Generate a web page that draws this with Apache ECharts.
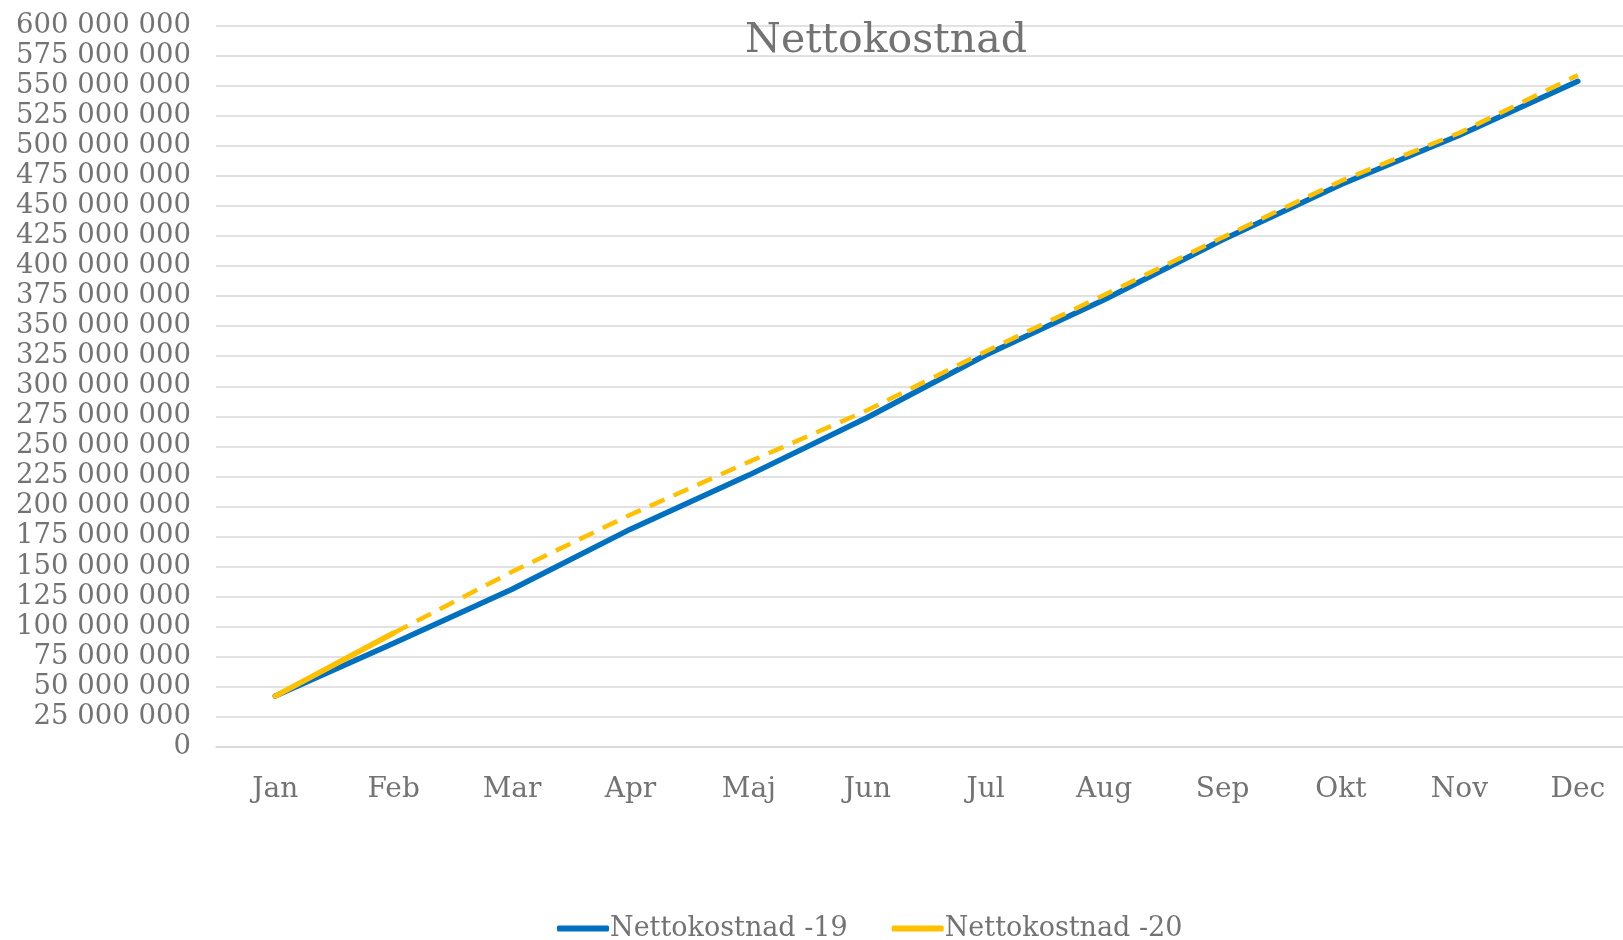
<!DOCTYPE html>
<html>
<head>
<meta charset="utf-8">
<title>Nettokostnad</title>
<script src="https://cdn.jsdelivr.net/npm/echarts@6/dist/echarts.min.js"></script>
<style>
  html, body { margin: 0; padding: 0; background: #fff; overflow: hidden; }
  /* diagrammet är bredare än fönstret, Dec-kolumnen skärs av till höger */
  #main { width: 1640px; height: 940px; }
</style>
</head>
<body>
<div id="main"></div>
<script>
// månader
var months = ['Jan', 'Feb', 'Mar', 'Apr', 'Maj', 'Jun', 'Jul', 'Aug', 'Sep', 'Okt', 'Nov', 'Dec'];

// ackumulerad nettokostnad 2019 (kr)
var netto19 = [42000000, 86000000, 131000000, 181000000, 226000000, 274000000,
               326000000, 372000000, 422000000, 468000000, 509000000, 554000000];

// 2020 utfall (heldragen) och prognos (streckad)
var netto20 = [42000000, 94500000, '-', '-', '-', '-', '-', '-', '-', '-', '-', '-'];
var prognos20 = ['-', 94500000, 145500000, 193000000, 237000000, 280000000,
                 329000000, 376000000, 424000000, 471000000, 511000000, 559000000];

var grey = '#737373';
var serif = 'DejaVu Serif';

function fmt(v) {
    return String(v).replace(/\B(?=(\d{3})+(?!\d))/g, ' ');
}

var myChart = echarts.init(document.getElementById('main'));
myChart.setOption({
    animation: false,
    backgroundColor: '#fff',
    title: {
        text: 'Nettokostnad',
        left: 740,
        top: 16,
        textStyle: { fontFamily: serif, fontSize: 41, fontWeight: 'normal', color: grey }
    },
    legend: {
        data: [
            { name: 'Nettokostnad -19', icon: 'roundRect' },
            { name: 'Nettokostnad -20', icon: 'roundRect' }
        ],
        left: 552,
        top: 910,
        itemWidth: 52,
        itemHeight: 6,
        itemGap: 44,
        textStyle: { fontFamily: serif, fontSize: 27, color: grey, padding: [0, 0, 0, -4] }
    },
    grid: { left: 216, right: 3, top: 26, bottom: 193.5, containLabel: false },
    xAxis: {
        type: 'category',
        data: months,
        boundaryGap: true,
        axisLine: { lineStyle: { color: '#d9d9d9', width: 1.5 } },
        axisTick: { show: false },
        axisLabel: { fontFamily: serif, fontSize: 28, color: grey, margin: 29 }
    },
    yAxis: {
        type: 'value',
        min: 0,
        max: 600000000,
        interval: 25000000,
        axisLine: { show: false },
        axisTick: { show: false },
        splitLine: { lineStyle: { color: '#d9d9d9', width: 1.5 } },
        axisLabel: {
            fontFamily: serif, fontSize: 27.5, color: grey, margin: 25,
            padding: [4, 0, 0, 0],
            formatter: function(v) { return fmt(v); }
        }
    },
    series: [
        {
            name: 'Nettokostnad -19', type: 'line', data: netto19,
            symbol: 'none', z: 3,
            itemStyle: { color: '#0070C0' },
            lineStyle: { color: '#0070C0', width: 5.5, cap: 'round' }
        },
        {
            name: 'Nettokostnad -20', type: 'line', data: netto20,
            symbol: 'none', z: 4,
            itemStyle: { color: '#FFC000' },
            lineStyle: { color: '#FFC000', width: 5.5, cap: 'round' }
        },
        {
            name: 'Prognos -20', type: 'line', data: prognos20,
            symbol: 'none', z: 4,
            itemStyle: { color: '#FFC000' },
            lineStyle: { color: '#FFC000', width: 4.5, type: [16, 10] }
        }
    ]
});
</script>
</body>
</html>
